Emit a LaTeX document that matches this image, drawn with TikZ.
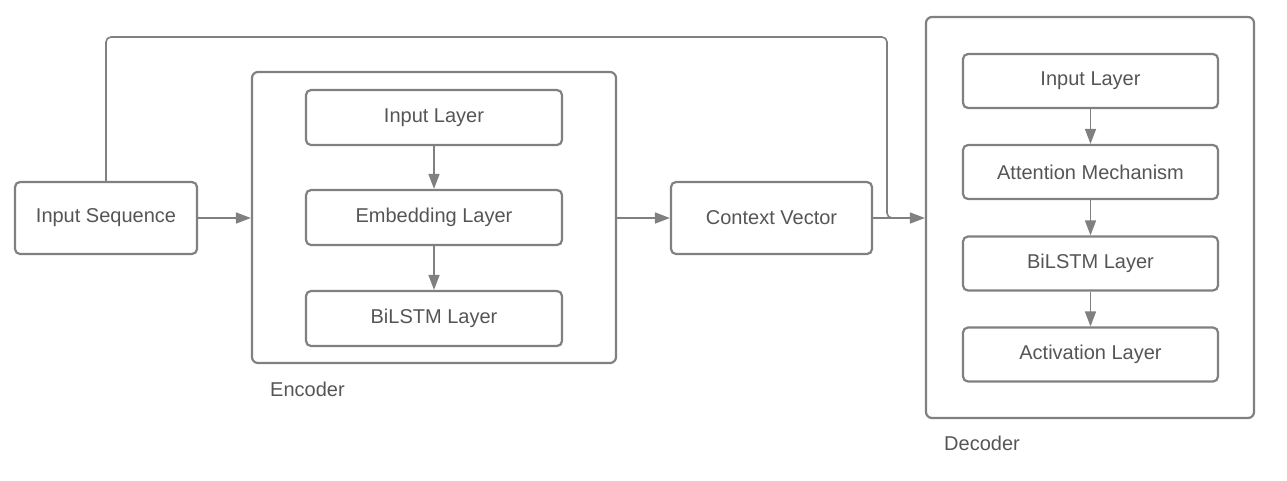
\documentclass[tikz,border=0pt]{standalone}
\usepackage{fontspec}
\setmainfont{Liberation Sans}
\usetikzlibrary{arrows.meta}
\definecolor{ln}{HTML}{808080}
\definecolor{tx}{HTML}{555555}
\tikzset{
  box/.style={draw=ln, line width=2.2pt, rounded corners=5pt, inner sep=0pt, text=tx, font=\fontsize{20}{23}\selectfont},
  frame/.style={draw=ln, line width=2.2pt, rounded corners=6pt, inner sep=0pt},
  conn/.style={draw=ln, line width=1.6pt, -{Triangle[length=15pt,width=11pt]}},
  plain/.style={draw=ln, line width=1.6pt, rounded corners=5pt},
  lbl/.style={text=tx, font=\fontsize{20}{23}\selectfont, inner sep=0pt}
}
\begin{document}
\begin{tikzpicture}[x=1pt,y=-1pt]
\useasboundingbox (0,0) rectangle (1287,480);
% frames
\node[frame, minimum width=364pt, minimum height=291pt] (enc) at (434,217.5) {};
\node[frame, minimum width=328pt, minimum height=401pt] (dec) at (1090,217.5) {};
% left
\node[box, minimum width=182pt, minimum height=72pt] (ins) at (106,218) {Input Sequence};
\node[box, minimum width=201pt, minimum height=72pt] (cv) at (771.5,218) {Context Vector};
% encoder
\node[box, minimum width=256pt, minimum height=55pt] (e1) at (434,117.5) {Input Layer};
\node[box, minimum width=256pt, minimum height=55pt] (e2) at (434,217.5) {Embedding Layer};
\node[box, minimum width=256pt, minimum height=55pt] (e3) at (434,318.5) {BiLSTM Layer};
\node[lbl, anchor=west] (encl) at (270,389) {Encoder};
% decoder
\node[box, minimum width=255pt, minimum height=54pt] (d1) at (1090.5,81) {Input Layer};
\node[box, minimum width=255pt, minimum height=54pt] (d2) at (1090.5,172) {Attention Mechanism};
\node[box, minimum width=255pt, minimum height=54pt] (d3) at (1090.5,263.5) {BiLSTM Layer};
\node[box, minimum width=255pt, minimum height=54pt] (d4) at (1090.5,354.5) {Activation Layer};
\node[lbl, anchor=west] (decl) at (944,443) {Decoder};
% connectors
\draw[conn] (e1) -- (e2);
\draw[conn] (e2) -- (e3);
\draw[conn] (d1) -- (d2);
\draw[conn] (d2) -- (d3);
\draw[conn] (d3) -- (d4);
\draw[conn] (ins.east) -- (enc.west |- ins.east);
\draw[conn] (enc.east |- cv.west) -- (cv.west);
\draw[conn] (cv.east) -- (dec.west |- cv.east);
\coordinate (tl) at (106,37);
\coordinate (tr) at (887,37);
\coordinate (jn) at (887,218);
\draw[plain] (ins.north) -- (tl) -- (tr) -- (jn) -- ([xshift=6pt]jn);
\end{tikzpicture}
\end{document}
